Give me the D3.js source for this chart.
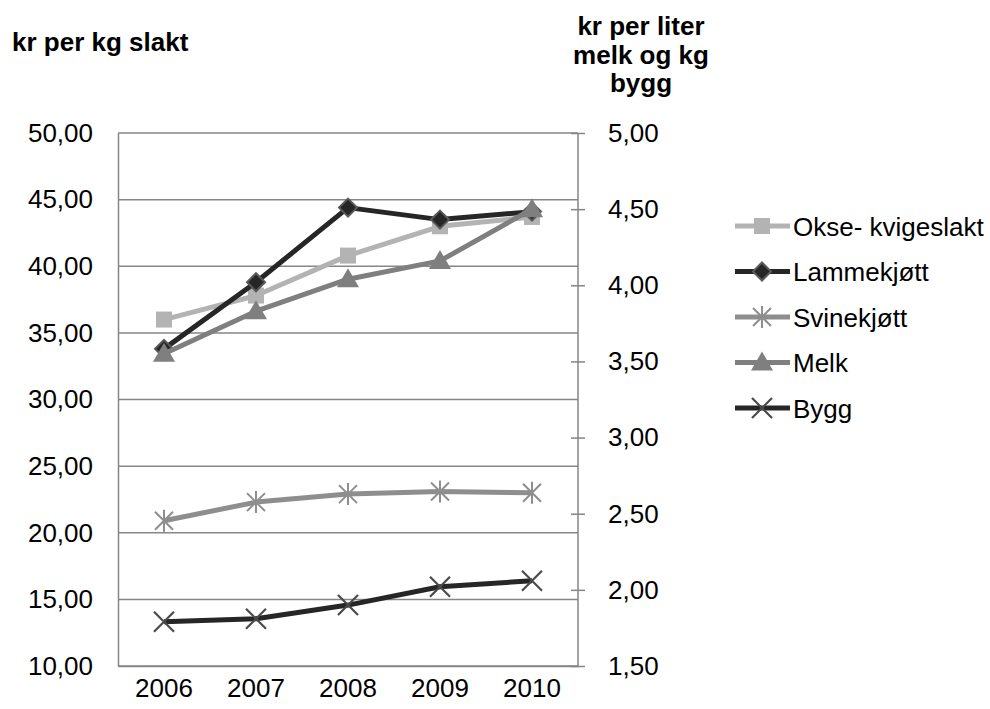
<!DOCTYPE html>
<html><head><meta charset="utf-8">
<script src="https://cdn.jsdelivr.net/npm/d3@7"></script>
<style>body{margin:0;background:#fff;} text{font-family:"Liberation Sans",Arial,sans-serif;}</style>
</head><body><svg id="c" width="990" height="709"></svg>
<script>
const years = ["2006","2007","2008","2009","2010"];
const okse = [36.0, 37.8, 40.8, 43.0, 43.7];
const lamme = [33.8, 38.8, 44.4, 43.5, 44.1];
const svine = [20.9, 22.3, 22.9, 23.1, 23.0];
const melk = [3.55, 3.83, 4.04, 4.16, 4.50];
const bygg = [1.79, 1.81, 1.90, 2.02, 2.06];
const leftTicks = [10,15,20,25,30,35,40,45,50];
const rightTicks = [1.5,2,2.5,3,3.5,4,4.5,5];

const series = [
  {name:"Okse- kvigeslakt", values:okse, axis:"L", color:"#b3b3b3", marker:"square", mfill:"#b3b3b3", mstroke:"#b3b3b3"},
  {name:"Lammekjøtt", values:lamme, axis:"L", color:"#262626", marker:"diamond", mfill:"#262626", mstroke:"#595959"},
  {name:"Svinekjøtt", values:svine, axis:"L", color:"#8e8e8e", marker:"star", mfill:"none", mstroke:"#8e8e8e"},
  {name:"Melk", values:melk, axis:"R", color:"#7f7f7f", marker:"triangle", mfill:"#7f7f7f", mstroke:"#7f7f7f"},
  {name:"Bygg", values:bygg, axis:"R", color:"#262626", marker:"x", mfill:"none", mstroke:"#4a4a4a"}
];

const FS = 26;
const svg = d3.select("#c");
const L = 118, R = 578, T = 133, B = 666;
const x = d3.scaleBand().domain(years).range([L, R]);
const yL = d3.scaleLinear().domain([10,50]).range([B, T]);
const yR = d3.scaleLinear().domain([1.5,5]).range([B, T]);
const fmt = v => d3.format(".2f")(v).replace(".", ",");
const gridC = "#868686";
const ff = "Liberation Sans, Arial, sans-serif";

// gridlines
svg.append("g").selectAll("line").data(leftTicks).join("line")
  .attr("x1", L).attr("x2", R).attr("y1", d=>yL(d)).attr("y2", d=>yL(d))
  .attr("stroke", gridC).attr("stroke-width", 1.5);

// left axis
const gL = svg.append("g").attr("transform", `translate(${L},0)`)
  .call(d3.axisLeft(yL).tickValues(leftTicks).tickFormat(fmt).tickSize(0).tickPadding(25));
gL.select(".domain").attr("stroke", gridC).attr("stroke-width", 1.5);
gL.selectAll("text").attr("font-size", FS).attr("fill", "#000").attr("font-family", ff);

// right axis
const gR = svg.append("g").attr("transform", `translate(${R},0)`)
  .call(d3.axisRight(yR).tickValues(rightTicks).tickFormat(fmt).tickSize(7).tickPadding(23));
gR.select(".domain").attr("stroke", gridC).attr("stroke-width", 1.5).attr("d", `M0,${T}V${B}`);
gR.selectAll(".tick line").attr("stroke", gridC).attr("stroke-width", 1.5).attr("x1", -7);
gR.selectAll("text").attr("font-size", FS).attr("fill", "#000").attr("font-family", ff);

// bottom axis
const gB = svg.append("g").attr("transform", `translate(0,${B})`)
  .call(d3.axisBottom(x).tickSize(0).tickPadding(13));
gB.select(".domain").attr("stroke", gridC).attr("stroke-width", 1.5);
gB.selectAll("text").attr("font-size", FS).attr("fill", "#000").attr("font-family", ff);

// titles
svg.append("text").attr("x", 12).attr("y", 51).attr("font-size", FS).attr("font-weight", "bold").text("kr per kg slakt");
const rt = ["kr per liter", "melk og kg", "bygg"];
svg.append("g").selectAll("text").data(rt).join("text")
  .attr("x", 641).attr("y", (d,i)=>35 + i*28.5).attr("text-anchor","middle")
  .attr("font-size", FS).attr("font-weight","bold").text(d=>d);

function drawMarker(g, type, fill, stroke) {
  if (type === "square") g.append("rect").attr("x",-8).attr("y",-8).attr("width",16).attr("height",16).attr("fill",fill);
  else if (type === "diamond") g.append("path").attr("d","M0,-9L9,0L0,9L-9,0Z").attr("fill",fill).attr("stroke",stroke).attr("stroke-width",2);
  else if (type === "triangle") g.append("path").attr("d","M0,-11L11,8L-11,8Z").attr("fill",fill);
  else if (type === "star") g.append("path").attr("d","M-9,-9L9,9M-9,9L9,-9M0,-11V11").attr("stroke",stroke).attr("stroke-width",2);
  else if (type === "x") g.append("path").attr("d","M-10,-10L10,10M-10,10L10,-10").attr("stroke",stroke).attr("stroke-width",2.2);
}

const cx = d => x(d) + x.bandwidth()/2;
series.forEach(s => {
  const ys = s.axis === "L" ? yL : yR;
  const line = d3.line().x((d,i)=>cx(years[i])).y(d=>ys(d));
  const g = svg.append("g");
  g.append("path").attr("d", line(s.values)).attr("fill","none").attr("stroke", s.color)
    .attr("stroke-width", 5).attr("stroke-linejoin","round");
  s.values.forEach((v,i) => {
    const m = g.append("g").attr("transform", `translate(${cx(years[i])},${ys(v)})`);
    drawMarker(m, s.marker, s.mfill, s.mstroke);
  });
});

// legend
const leg = svg.append("g");
series.forEach((s,i) => {
  const y0 = 226 + i*45.5;
  const g = leg.append("g").attr("transform", `translate(0,${y0})`);
  g.append("line").attr("x1",735).attr("x2",790).attr("y1",0).attr("y2",0).attr("stroke",s.color).attr("stroke-width",5);
  const m = g.append("g").attr("transform","translate(762,0)");
  drawMarker(m, s.marker, s.mfill, s.mstroke);
  g.append("text").attr("x",793).attr("y",9.5).attr("font-size",FS).text(s.name);
});
</script></body></html>
